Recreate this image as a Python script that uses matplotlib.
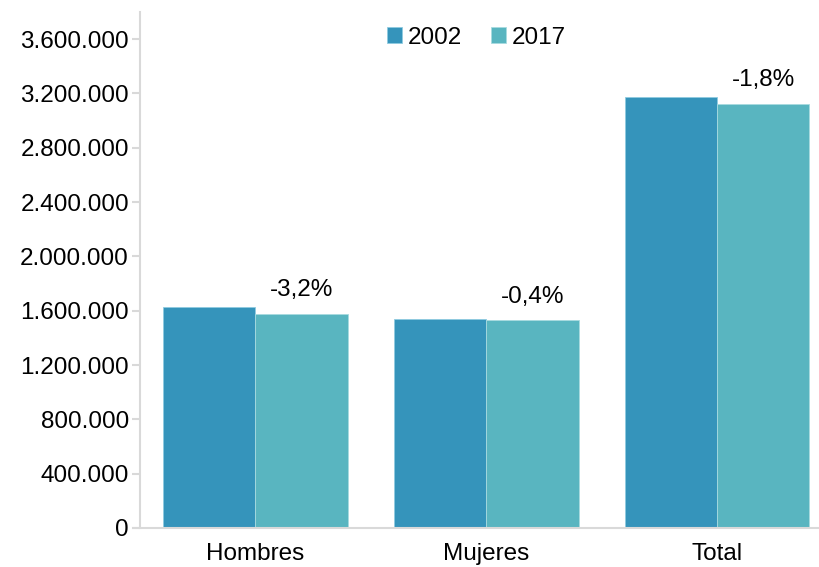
import numpy as np
import matplotlib.pyplot as plt

categories = ['Hombres', 'Mujeres', 'Total']
years = ['2002', '2017']
values_2002 = [1628000, 1540000, 3177000]
values_2017 = [1577000, 1529000, 3123000]
changes = ['-3,2%', '-0,4%', '-1,8%']
yticks = np.arange(0, 3600001, 400000)

plt.rcParams['font.family'] = ['Liberation Sans', 'DejaVu Sans']

fig = plt.figure(figsize=(8.2, 5.67), dpi=100)
ax = fig.add_axes([140 / 820, 1 - 528 / 567, 680 / 820, 516 / 567])

x = np.arange(len(categories))
w = 0.4
ax.bar(x - w / 2, values_2002, w, color='#3594BB', edgecolor='#8fcbe0', linewidth=0.6, label=years[0])
ax.bar(x + w / 2, values_2017, w, color='#59B5C0', edgecolor='#a8dbe0', linewidth=0.6, label=years[1])

for xi, v, txt in zip(x, values_2017, changes):
    ax.annotate(txt, (xi + w / 2, v), xytext=(0, 9), textcoords='offset points',
                ha='center', va='bottom', fontsize=17.5)

ax.set_xlim(-0.5, 2.446)
ax.set_ylim(0, 3800000)
ax.set_yticks(yticks)
ax.set_yticklabels([f'{v:,}'.replace(',', '.') for v in yticks], fontsize=17.5)
ax.set_xticks(x)
ax.set_xticklabels(categories, fontsize=17.5)

for s in ['top', 'right']:
    ax.spines[s].set_visible(False)
for s in ['left', 'bottom']:
    ax.spines[s].set_color('#d9d9d9')
    ax.spines[s].set_linewidth(1.5)
ax.spines['bottom'].set_bounds(-0.53, 2.446)
ax.tick_params(axis='y', length=6, color='#d9d9d9', width=1.5, pad=2)
ax.tick_params(axis='x', length=0, pad=11)

ax.legend(loc='upper center', bbox_to_anchor=(0.495, 1.0), ncol=2, frameon=False,
          fontsize=17.5, handlelength=0.6, handleheight=0.6, handletextpad=0.25,
          columnspacing=1.2, borderaxespad=0.2)

fig.savefig('out.png', dpi=100)
